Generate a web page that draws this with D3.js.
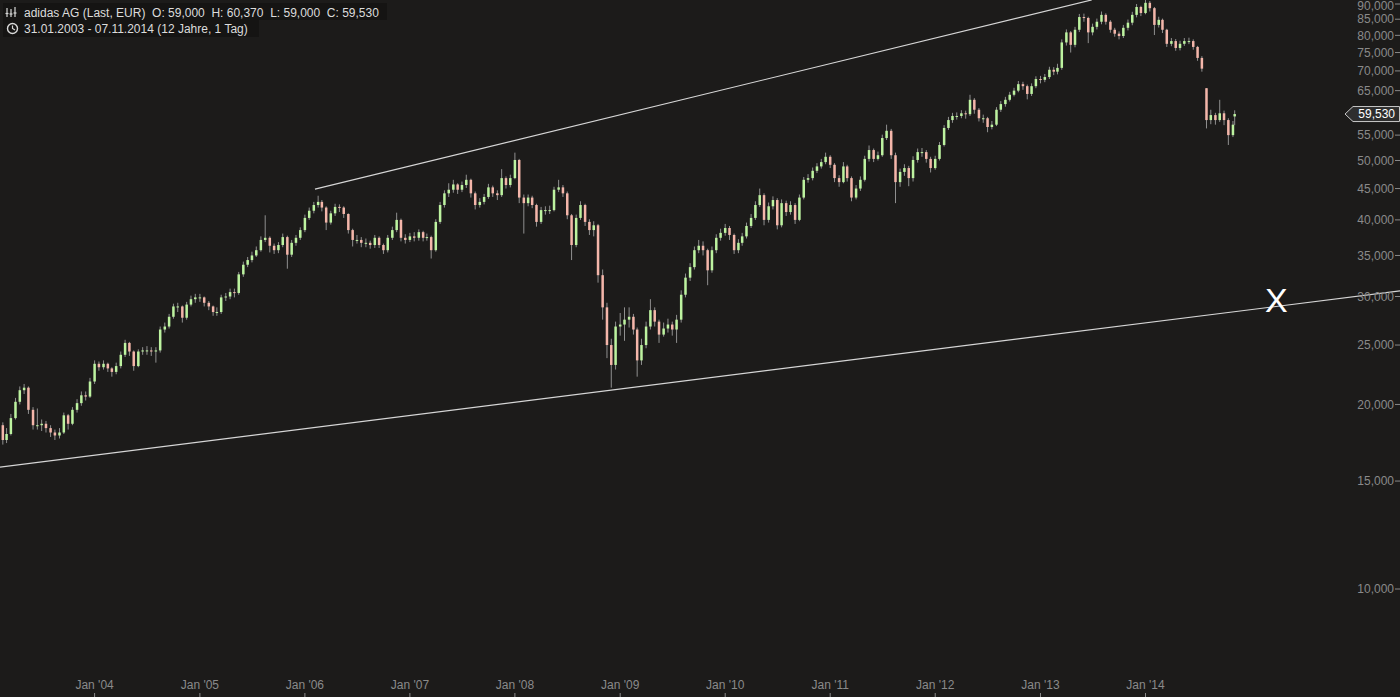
<!DOCTYPE html>
<html><head><meta charset="utf-8">
<script src="https://cdn.jsdelivr.net/npm/d3@7"></script>
<style>html,body{margin:0;padding:0;background:#1c1b1a;overflow:hidden}</style>
</head><body><svg id="c" width="1400" height="697"></svg>
<script>
// ---------- data ----------
const title = "adidas AG (Last, EUR)";
const period = "31.01.2003 - 07.11.2014 (12 Jahre, 1 Tag)";
const lastBar = [59.000, 60.370, 59.000, 59.530]; // O H L C of the final day
const yTicks = [10, 15, 20, 25, 30, 35, 40, 45, 50, 55, 65, 70, 75, 80, 85, 90];
const xTickYears = [2004, 2005, 2006, 2007, 2008, 2009, 2010, 2011, 2012, 2013, 2014];

// semi-monthly closes (EUR), Feb 2003 .. 07.11.2014
const closes = [
  18.5,17.5,17.9,19.0,20.2,21.1,21.3,19.6,18.5,18.5,18.6,18.3,18.0,17.8,18.0,19.2,18.6,19.6,20.1,20.7,20.6,21.8,
  23.3,23.0,23.3,22.9,22.6,23.1,24.1,25.2,24.4,23.1,24.4,24.5,24.5,24.4,24.5,26.5,26.8,27.8,28.9,28.9,27.7,29.1,29.7,29.9,
  29.9,29.3,28.9,28.3,28.3,29.9,30.0,30.5,30.4,32.6,33.8,34.4,35.0,35.7,37.1,37.4,36.3,35.7,36.4,37.5,35.1,36.7,37.4,38.5,
  40.3,41.4,42.3,42.8,41.9,39.6,41.0,42.0,41.9,40.9,38.5,37.1,37.1,36.7,36.7,36.4,37.4,36.4,35.7,37.4,38.5,40.0,37.4,37.1,
  37.6,37.4,38.2,37.4,37.5,35.7,39.7,42.3,44.2,44.8,45.7,44.8,45.6,46.5,44.2,42.3,42.8,43.6,45.2,44.2,43.9,46.8,45.6,46.8,
  50.1,43.5,42.6,43.5,42.3,39.7,41.5,41.5,41.5,44.8,45.2,44.2,40.7,36.4,40.3,42.3,39.7,38.5,39.2,32.5,28.8,25.0,23.2,26.8,
  27.0,27.5,27.8,26.5,23.6,25.0,26.8,28.5,27.3,26.0,26.6,27.0,26.5,27.5,30.2,32.2,33.5,35.7,36.3,35.7,33.1,35.7,37.4,38.1,
  38.8,37.8,35.7,36.7,37.6,39.1,40.3,42.3,43.9,40.0,42.1,43.1,39.2,42.6,41.2,42.3,40.0,43.5,46.5,46.8,48.1,48.9,49.7,50.7,
  49.2,46.8,46.1,48.9,46.8,43.5,45.0,46.5,50.3,52.0,50.3,51.0,54.4,55.9,51.0,46.1,47.9,48.6,46.8,50.1,51.6,51.6,50.3,48.6,
  50.3,53.0,56.5,58.2,59.1,59.1,59.7,59.5,62.8,60.5,58.6,58.6,56.7,57.2,60.5,61.8,62.8,64.0,65.0,66.6,66.1,64.2,66.1,67.9,
  67.7,68.4,70.3,69.8,70.8,77.9,80.9,77.2,81.7,85.7,85.4,80.9,82.6,84.2,86.4,84.2,81.7,80.5,79.8,82.3,83.9,86.4,89.0,87.0,
  90.4,88.6,83.2,84.8,81.7,77.5,78.3,76.3,77.5,78.3,78.3,76.6,73.5,70.6,58.2,59.3,58.2,59.7,58.2,55.0,57.2,59.53
];
const highs = [
  19.4,18.7,18.3,19.3,20.5,21.4,21.6,21.4,19.8,19.7,18.9,18.8,18.5,18.2,18.3,19.4,19.3,19.8,20.4,21.0,21.0,22.1,
  23.6,23.5,23.6,23.4,23.0,23.4,24.4,25.5,25.3,24.5,24.6,24.8,24.9,24.8,24.8,26.8,27.2,28.1,29.2,29.3,29.0,29.4,30.1,30.3,
  30.3,30.0,29.5,29.0,28.8,30.2,30.4,30.9,30.9,32.9,34.2,34.8,35.5,36.2,37.6,40.7,37.6,36.6,36.8,38.0,37.7,37.1,37.8,38.9,
  40.8,41.9,42.8,43.8,43.1,42.1,41.4,42.5,42.4,42.1,41.0,38.7,37.8,37.5,37.3,37.0,37.8,37.6,36.6,37.8,39.0,41.1,40.2,37.9,
  38.1,38.2,38.6,38.4,38.0,37.7,40.1,42.8,44.7,45.9,46.5,45.9,46.2,47.4,46.7,44.5,43.4,44.1,45.8,45.5,44.7,48.4,47.1,47.4,
  51.5,50.3,44.0,44.0,43.8,42.5,42.0,42.1,42.2,45.3,46.5,45.6,44.5,40.9,40.8,42.9,42.5,40.1,39.8,39.4,33.2,29.3,25.6,27.3,
  28.2,28.8,28.8,28.1,26.7,25.6,27.3,29.7,28.8,27.5,27.2,27.6,27.3,28.0,30.7,32.7,34.0,36.2,37.1,36.9,35.9,36.2,37.9,38.7,
  39.4,39.1,38.0,37.2,38.1,39.6,40.9,42.9,45.0,44.2,42.7,43.7,43.4,43.2,43.0,42.9,42.6,44.0,47.0,47.5,48.7,49.5,50.3,51.5,
  51.0,49.5,47.3,49.7,49.2,47.1,45.6,47.1,50.9,52.9,52.3,51.7,55.1,57.2,56.3,51.5,48.5,49.3,49.0,50.8,52.3,52.4,52.0,50.7,
  50.9,53.6,57.1,58.9,59.8,59.9,60.4,60.3,64.0,63.2,60.9,59.4,58.9,58.0,61.1,62.5,63.5,64.7,65.7,67.4,67.2,66.5,66.8,68.6,
  68.7,69.2,71.1,71.0,71.9,78.8,81.8,81.3,82.6,86.7,86.8,85.8,83.6,85.2,87.5,86.9,84.7,82.3,81.2,83.2,84.9,87.4,90.0,89.4,
  91.4,91.0,89.0,85.8,85.2,82.0,79.2,78.9,78.4,79.2,79.3,78.8,76.9,74.0,65.6,60.5,59.8,62.8,60.3,58.6,58.0,60.37
];
const lows = [
  18.2,17.2,17.3,17.8,18.9,20.0,20.8,19.3,18.2,18.2,18.1,18.0,17.7,17.5,17.6,17.9,18.2,18.5,19.4,19.9,20.3,20.5,
  21.6,22.7,22.8,22.6,22.2,22.4,22.9,23.9,24.0,22.7,23.0,24.1,24.1,24.0,23.4,24.3,26.2,26.6,27.6,28.3,27.2,27.5,28.9,29.3,
  29.4,28.9,28.5,27.9,27.9,28.1,29.5,29.7,29.9,30.2,32.3,33.5,34.1,34.8,35.5,36.8,35.4,35.2,35.3,36.1,33.3,34.8,36.3,37.1,
  38.2,40.0,41.0,41.9,41.3,38.5,39.3,40.6,41.2,40.3,38.0,36.2,36.6,36.1,36.1,35.9,36.0,36.0,35.2,35.4,37.1,38.2,36.9,36.6,
  36.8,36.9,37.0,36.9,37.0,34.6,35.5,39.4,41.9,43.6,44.3,44.1,44.4,45.1,43.5,41.6,41.9,42.4,43.3,43.6,43.1,43.6,45.0,45.2,
  46.6,42.6,38.0,42.1,41.8,39.0,39.4,40.8,40.9,41.3,44.4,43.6,40.1,34.4,36.1,40.0,39.1,37.8,37.6,31.6,27.5,23.8,21.3,22.8,
  25.9,25.4,26.7,26.0,22.2,23.2,24.7,26.5,26.8,25.2,25.8,26.2,25.9,25.2,27.2,29.9,31.8,33.2,35.3,35.0,31.3,32.8,35.3,37.0,
  37.7,37.1,35.2,35.3,36.3,37.3,38.8,40.0,42.0,39.2,39.6,41.6,38.6,38.9,40.6,40.8,39.4,39.8,43.2,46.0,46.4,47.7,48.5,49.3,
  48.6,46.1,45.3,45.9,46.2,42.9,43.2,44.6,46.2,49.8,49.7,50.0,50.7,54.0,50.3,42.6,45.3,47.2,45.4,46.2,49.6,50.7,49.6,47.8,
  48.3,50.0,52.7,56.1,57.6,58.3,58.6,58.5,59.1,59.6,57.9,57.6,55.6,56.2,56.9,60.0,61.2,62.4,63.6,64.6,65.2,62.9,63.7,65.6,
  66.8,67.1,67.9,68.9,69.1,70.3,77.0,75.0,76.5,81.0,84.2,77.7,80.0,81.8,83.4,83.3,80.8,79.6,78.8,79.2,81.5,83.1,85.6,86.0,
  86.6,87.5,80.1,82.4,80.7,76.6,76.8,75.5,75.6,76.9,77.4,75.8,72.7,69.8,56.4,57.3,57.2,57.8,57.1,53.0,54.6,57.1
];
// opening gap after the profit warning
const gapBar = {date: new Date(2014, 7, 1), open: 65.6};
// trend lines: [date, price] anchors
const upperTrend = [[new Date(2006, 1, 5), 44.9], [new Date(2013, 5, 28), 91.4]];
const lowerTrend = [[new Date(2003, 0, 1), 15.73], [new Date(2014, 11, 31), 28.55]];
const markLabel = {text: "X", date: new Date(2015, 3, 1), price: 29.6};

// sample dates: 1st and 16th of each month (x categories)
const dates = [];
for (let yr = 2003; yr <= 2014; yr++) for (let m = 0; m < 12; m++) for (const d of [1, 16]) {
  const dt = new Date(yr, m, d);
  if (dt >= new Date(2003, 1, 1) && dt <= new Date(2014, 9, 16)) dates.push(dt);
}
dates[0] = new Date(2003, 0, 31);
dates.push(new Date(2014, 10, 1), new Date(2014, 10, 7));

// ---------- drawing ----------
const W = 1400, H = 697;
const svg = d3.select("#c");
const FONT = "'Liberation Sans', Arial, sans-serif";
svg.append("rect").attr("width", W).attr("height", H).attr("fill", "#1c1b1a");

const x = d3.scaleTime().domain([new Date(2004, 0, 1), new Date(2014, 0, 1)]).range([94.6, 1145.5]);
const y = d3.scaleLog().domain([10, 90]).range([589, 4]);
const loc = d3.formatLocale({decimal: ",", thousands: ".", grouping: [3], currency: ["", "€"]});
const fmt = loc.format(".3f");

const data = dates.map((d, i) => {
  let open = i === 0 ? closes[0] : closes[i - 1];
  if (+d === +gapBar.date) open = gapBar.open;
  if (i === dates.length - 1) open = lastBar[0];
  return {date: d, close: closes[i], high: highs[i], low: lows[i], open};
});

const plot = svg.append("g");
// wicks
plot.selectAll("line.wick").data(data).join("line").attr("class", "wick")
  .attr("x1", d => x(d.date)).attr("x2", d => x(d.date))
  .attr("y1", d => y(d.high)).attr("y2", d => y(d.low))
  .attr("stroke", "#8f8f8f").attr("stroke-width", 1);
// bodies
plot.selectAll("rect.body").data(data).join("rect").attr("class", "body")
  .attr("x", d => x(d.date) - 1.25).attr("width", 2.5)
  .attr("y", d => y(Math.max(d.open, d.close)))
  .attr("height", d => Math.max(1, Math.abs(y(d.open) - y(d.close))))
  .attr("fill", d => d.close >= d.open ? "#bdf3a0" : "#f4b6aa");

// trend lines
const tl = svg.append("g").attr("stroke", "#d6d6d6").attr("stroke-width", 1.1);
tl.append("line")
  .attr("x1", x(upperTrend[0][0])).attr("y1", y(upperTrend[0][1]))
  .attr("x2", x(upperTrend[1][0])).attr("y2", y(upperTrend[1][1]));
{
  const ax = x(lowerTrend[0][0]), ay = y(lowerTrend[0][1]);
  const bx = x(lowerTrend[1][0]), by = y(lowerTrend[1][1]);
  const k = (by - ay) / (bx - ax);
  tl.append("line").attr("x1", 0).attr("y1", ay + k * (0 - ax))
    .attr("x2", W).attr("y2", ay + k * (W - ax));
}

// X marker
svg.append("text").attr("x", x(markLabel.date)).attr("y", y(markLabel.price))
  .attr("text-anchor", "middle").attr("dominant-baseline", "central")
  .attr("font-family", FONT).attr("font-size", 34).attr("fill", "#ffffff").text(markLabel.text);

// y axis (right)
const ya = svg.append("g");
yTicks.forEach(v => {
  ya.append("line").attr("x1", 1395).attr("x2", 1400).attr("y1", y(v)).attr("y2", y(v))
    .attr("stroke", "#8a8a8a").attr("stroke-width", 1);
  ya.append("text").attr("x", 1394).attr("y", Math.max(y(v), 5.5)).attr("dy", "0.35em")
    .attr("text-anchor", "end").attr("font-family", FONT).attr("font-size", 12)
    .attr("fill", "#8a8a8a").text(fmt(v));
});

// x axis (bottom)
const xa = svg.append("g");
const tf = d3.timeFormat("Jan '%y");
xTickYears.forEach(yr => {
  const d = new Date(yr, 0, 1);
  xa.append("line").attr("x1", x(d)).attr("x2", x(d)).attr("y1", 693).attr("y2", 697)
    .attr("stroke", "#8a8a8a");
  xa.append("text").attr("x", x(d)).attr("y", 689).attr("text-anchor", "middle")
    .attr("font-family", FONT).attr("font-size", 12).attr("fill", "#8a8a8a").text(tf(d));
});

// last price tag
{
  const ly = y(lastBar[3]);
  const tag = svg.append("g");
  tag.append("path")
    .attr("d", `M1345,${ly} L1353,${ly - 7.5} L1399.5,${ly - 7.5} L1399.5,${ly + 7.5} L1353,${ly + 7.5} Z`)
    .attr("fill", "#2e2e2e").attr("stroke", "#c8c8c8").attr("stroke-width", 1);
  tag.append("text").attr("x", 1395).attr("y", ly).attr("dy", "0.36em").attr("text-anchor", "end")
    .attr("font-family", FONT).attr("font-size", 12).attr("fill", "#ffffff").text(fmt(lastBar[3]));
}

// header
const hd = svg.append("g");
hd.append("rect").attr("x", 3).attr("y", 3).attr("width", 384).attr("height", 17).attr("fill", "#151413");
hd.append("rect").attr("x", 3).attr("y", 20).attr("width", 256).attr("height", 17).attr("fill", "#151413");
const ic = hd.append("g").attr("stroke", "#d8d8d8").attr("stroke-width", 1.2).attr("fill", "none");
[[7, 8, 17], [11, 9, 17], [15, 7, 17]].forEach(([cx, t, b]) => {
  ic.append("line").attr("x1", cx).attr("x2", cx).attr("y1", t).attr("y2", b);
  ic.append("line").attr("x1", cx - 1.5).attr("x2", cx + 1.5).attr("y1", (t + b) / 2 + 1).attr("y2", (t + b) / 2 + 1);
});
hd.append("circle").attr("cx", 12.5).attr("cy", 28.5).attr("r", 5).attr("stroke", "#d8d8d8").attr("stroke-width", 1.4).attr("fill", "none");
hd.append("path").attr("d", "M12.5,25.5 L12.5,28.5 L15,30").attr("stroke", "#d8d8d8").attr("stroke-width", 1.2).attr("fill", "none");
hd.append("text").attr("x", 24).attr("y", 16.5).attr("font-family", FONT).attr("font-size", 12)
  .attr("fill", "#dcdcdc").style("white-space", "pre")
  .text(`${title}  O: ${fmt(lastBar[0])}  H: ${fmt(lastBar[1])}  L: ${fmt(lastBar[2])}  C: ${fmt(lastBar[3])}`);
hd.append("text").attr("x", 24).attr("y", 33).attr("font-family", FONT).attr("font-size", 12)
  .attr("fill", "#dcdcdc").text(period);
</script></body></html>
